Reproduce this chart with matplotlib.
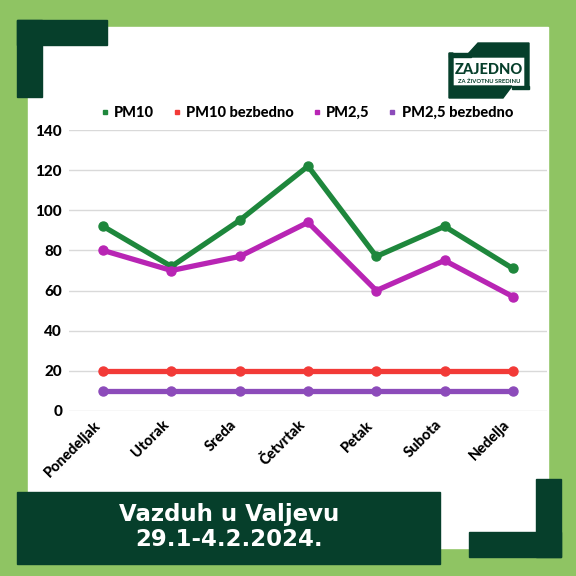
import matplotlib
matplotlib.use("Agg")
import matplotlib.pyplot as plt
import matplotlib.transforms as mtransforms
from matplotlib.patches import Rectangle, Polygon

days = ["Ponedeljak", "Utorak", "Sreda", "Četvrtak", "Petak", "Subota", "Nedelja"]
pm10 = [92, 72, 95, 122, 77, 92, 71]
pm10_safe = [20, 20, 20, 20, 20, 20, 20]
pm25 = [80, 70, 77, 94, 60, 75, 57]
pm25_safe = [10, 10, 10, 10, 10, 10, 10]
yticks = [0, 20, 40, 60, 80, 100, 120, 140]

series = [
    ("PM10", pm10, "#1e873c"),
    ("PM10 bezbedno", pm10_safe, "#f23a37"),
    ("PM2,5", pm25, "#b825b4"),
    ("PM2,5 bezbedno", pm25_safe, "#8c4bba"),
]

LIGHT = "#8fc463"
DARK = "#063f2b"
FONT = ["Lato", "DejaVu Sans"]

fig = plt.figure(figsize=(5.76, 5.76), dpi=100)
fig.patch.set_facecolor(LIGHT)

# decoration layer in pixel coordinates
deco = fig.add_axes([0, 0, 1, 1])
deco.set_xlim(0, 576)
deco.set_ylim(576, 0)
deco.axis("off")
deco.add_patch(Rectangle((28, 27), 520, 521, color="white"))
# top-left corner
deco.add_patch(Rectangle((17, 20), 90, 25, color=DARK))
deco.add_patch(Rectangle((17, 20), 25, 77, color=DARK))
# bottom-right corner
deco.add_patch(Rectangle((469, 532), 92, 25, color=DARK))
deco.add_patch(Rectangle((536, 479), 25, 78, color=DARK))
# title box
deco.add_patch(Rectangle((17, 492), 423, 72, color=DARK))
deco.text(229, 527, "Vazduh u Valjevu\n29.1-4.2.2024.", color="white",
          fontsize=16.5, fontweight="bold", family=["DejaVu Sans"],
          ha="center", va="center", linespacing=1.15)

# logo
deco.add_patch(Polygon([(468, 54), (478, 43), (529, 43), (529, 88), (525, 88),
                        (525, 57), (468, 57)], color=DARK))
deco.add_patch(Rectangle((449, 53), 22, 4, color=DARK))
deco.add_patch(Polygon([(449, 53), (453, 53), (453, 86), (512, 86), (503, 98),
                        (449, 98)], color=DARK))
deco.add_patch(Rectangle((512, 86), 17, 3, color=DARK))
deco.text(489, 70, "ZAJEDNO", color=DARK, fontsize=10.5, fontweight="black",
          family=FONT, ha="center", va="center")
deco.text(489, 81, "ZA ŽIVOTNU SREDINU", color=DARK, fontsize=4.2,
          fontweight="bold", family=FONT, ha="center", va="center")

# chart
ax = fig.add_axes([69 / 576, 1 - 411 / 576, 478 / 576, 281 / 576])
ax.set_facecolor("none")
x = list(range(len(days)))
for name, vals, color in series:
    ax.plot(x, vals, color=color, lw=3.8, marker="o", ms=6.5,
            solid_capstyle="round", solid_joinstyle="round", label=name)

ax.set_xlim(-0.5, len(days) - 0.5)
ax.set_ylim(0, 140)
ax.set_yticks(yticks)
ax.set_yticklabels([str(v) for v in yticks], fontsize=11, fontweight="black",
                   family=FONT)
ax.set_xticks(x)
ax.set_xticklabels(days, rotation=45, ha="right", fontsize=10.5,
                   fontweight="black", family=FONT)
offset = mtransforms.ScaledTranslation(10 / 100, 0, fig.dpi_scale_trans)
for lbl in ax.get_xticklabels():
    lbl.set_transform(lbl.get_transform() + offset)
ax.tick_params(length=0, pad=5)
ax.grid(axis="y", color="#d9d9d9", lw=1)
ax.set_axisbelow(True)
for s in ax.spines.values():
    s.set_visible(False)

handles = [plt.Line2D([], [], marker="s", color=c, ls="none", ms=3.5)
           for _, _, c in series]
fig.legend(handles, [n for n, _, _ in series], loc="center",
           bbox_to_anchor=(307 / 576, 1 - 113 / 576), ncol=4, frameon=False,
           prop={"family": FONT, "weight": "black", "size": 10.5},
           handlelength=0.5, handletextpad=0.4, columnspacing=1.3)

fig.savefig("out.png", dpi=100, facecolor=fig.get_facecolor())
